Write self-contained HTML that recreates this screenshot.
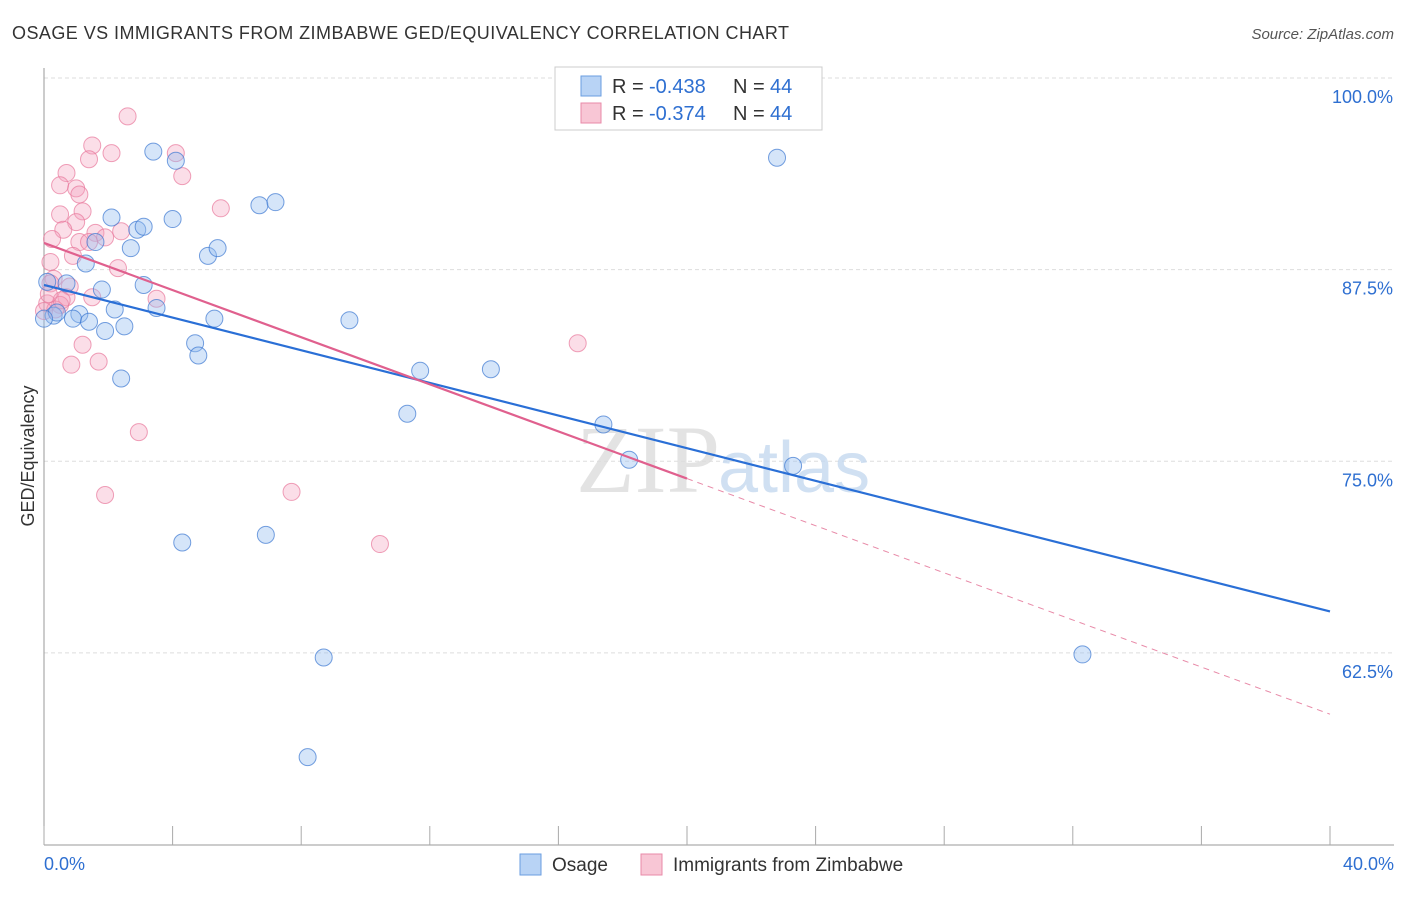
<!DOCTYPE html>
<html><head><meta charset="utf-8"><style>
body{margin:0;background:#fff;font-family:"Liberation Sans",sans-serif}
</style></head><body>
<svg width="1406" height="892" xmlns="http://www.w3.org/2000/svg">
<text x="12" y="39" font-size="18" fill="#333" textLength="777">OSAGE VS IMMIGRANTS FROM ZIMBABWE GED/EQUIVALENCY CORRELATION CHART</text>
<text x="1394" y="39" font-size="15" fill="#555" font-style="italic" text-anchor="end">Source: ZipAtlas.com</text>
<g id="grid"></g>
<text x="720" y="492" font-size="96" fill="#ddd" font-family="Liberation Serif" text-anchor="end" opacity="0.8">ZIP</text>
<text x="718" y="492" font-size="72" fill="#c5d9f0" opacity="0.8">atlas</text>
<g id="pts"></g>
<g id="lines"></g>
<text transform="translate(34,456) rotate(-90)" font-size="18" fill="#333" text-anchor="middle">GED/Equivalency</text>
<g>
<rect x="555" y="67" width="267" height="63" fill="#fff" stroke="#ccc"/>
<rect x="581" y="76" width="20" height="20" fill="#b8d3f5" stroke="#6a9ee0"/>
<text x="612" y="93" font-size="20" fill="#333">R =</text>
<text x="649" y="93" font-size="20" fill="#2e6fd1">-0.438</text>
<text x="733" y="93" font-size="20" fill="#333">N =</text>
<text x="770" y="93" font-size="20" fill="#2e6fd1">44</text>
<rect x="581" y="103" width="20" height="20" fill="#f8c6d5" stroke="#e88aa8"/>
<text x="612" y="120" font-size="20" fill="#333">R =</text>
<text x="649" y="120" font-size="20" fill="#2e6fd1">-0.374</text>
<text x="733" y="120" font-size="20" fill="#333">N =</text>
<text x="770" y="120" font-size="20" fill="#2e6fd1">44</text>
</g>
<g>
<rect x="520" y="854" width="21" height="21" fill="#b8d3f5" stroke="#6a9ee0"/>
<text x="552" y="871" font-size="19" fill="#333">Osage</text>
<rect x="641" y="854" width="21" height="21" fill="#f8c6d5" stroke="#e88aa8"/>
<text x="673" y="871" font-size="19" fill="#333">Immigrants from Zimbabwe</text>
</g>
</svg>
<script>
const xTicks=[0,4,8,12,16,20,24,28,32,36,40];
const yTicks=[100,87.5,75,62.5];
const osageX=[3.4,4.1,22.8,2.1,2.9,3.1,4.0,6.7,7.2,1.6,2.7,5.1,5.4,1.3,0.1,0.7,1.8,3.1,2.2,3.5,1.1,0.3,0.9,1.4,2.5,1.9,5.3,9.5,4.7,4.8,2.4,11.7,13.9,11.3,17.4,18.2,23.3,4.3,6.9,8.7,32.3,8.2,0.4,0.0];
const osageY=[95.2,94.6,94.8,90.9,90.1,90.3,90.8,91.7,91.9,89.3,88.9,88.4,88.9,87.9,86.7,86.6,86.2,86.5,84.9,85.0,84.6,84.5,84.3,84.1,83.8,83.5,84.3,84.2,82.7,81.9,80.4,80.9,81.0,78.1,77.4,75.1,74.7,69.7,70.2,62.2,62.4,55.7,84.7,84.3];
const zimX=[2.6,1.5,2.1,4.1,1.4,0.7,4.3,0.5,1.0,1.1,5.5,1.2,0.5,1.0,0.6,1.6,2.4,1.9,0.25,1.1,1.4,0.2,0.9,2.3,0.3,0.8,1.5,3.5,0.7,0.1,0.5,0.35,0.0,1.2,0.85,1.7,16.6,2.95,1.9,7.7,10.45,0.55,0.2,0.15];
const zimY=[97.5,95.6,95.1,95.1,94.7,93.8,93.6,93.0,92.8,92.4,91.5,91.3,91.1,90.6,90.1,89.9,90.0,89.6,89.5,89.3,89.3,88.0,88.4,87.6,86.9,86.4,85.7,85.6,85.7,85.3,85.2,84.9,84.8,82.6,81.3,81.5,82.7,76.9,72.8,73.0,69.6,85.5,86.6,85.9];
const blueLine=[86.5,65.2];
const pinkLine=[89.24,58.5];
const X=v=>44+v*32.15, Y=v=>78+(100-v)*15.33;
const NS="http://www.w3.org/2000/svg";
function mk(t,a,p){const e=document.createElementNS(NS,t);for(const k in a)e.setAttribute(k,a[k]);p.appendChild(e);return e;}
const grid=document.getElementById('grid');
yTicks.forEach(t=>{
 const l=mk('line',{x1:44,x2:1394,y1:Y(t),y2:Y(t),stroke:'#ddd','stroke-dasharray':'4,3'},grid);
 
 
 const tx=mk('text',{x:1393,y:Y(t)+25,'font-size':18,fill:'#2e6fd1','text-anchor':'end'},grid);
 tx.textContent=t.toFixed(1)+'%';
 
 
});
const ax=mk('line',{x1:44,x2:44,y1:68,y2:845,stroke:'#999'},grid);


const bx=mk('line',{x1:44,x2:1394,y1:845,y2:845,stroke:'#999'},grid);


xTicks.forEach(t=>{
 const l=mk('line',{x1:X(t),x2:X(t),y1:826,y2:845,stroke:'#aaa'},grid);
 
 
});
[[0,'0.0%','start',44],[40,'40.0%','end',1394]].forEach(a=>{
 const tx=mk('text',{x:a[3],y:870,'font-size':18,fill:'#2e6fd1','text-anchor':a[2]},grid);
 tx.textContent=a[1];
 
 
});
const pts=document.getElementById('pts');
zimX.forEach((v,i)=>{
 const c=mk('circle',{cx:X(v),cy:Y(zimY[i]),r:8.5,fill:'rgba(244,160,188,0.35)',stroke:'rgba(232,120,155,0.7)','stroke-width':1},pts);
 
 
});
osageX.forEach((v,i)=>{
 const c=mk('circle',{cx:X(v),cy:Y(osageY[i]),r:8.5,fill:'rgba(150,190,240,0.4)',stroke:'rgba(60,120,210,0.7)','stroke-width':1},pts);
 
 
});
const ln=document.getElementById('lines');
const pAt=x=>pinkLine[0]+(pinkLine[1]-pinkLine[0])*x/40;
let l1=mk('line',{x1:X(0),y1:Y(blueLine[0]),x2:X(40),y2:Y(blueLine[1]),stroke:'#2a6fd6','stroke-width':2.2},ln);


let l2=mk('line',{x1:X(0),y1:Y(pinkLine[0]),x2:X(20),y2:Y(pAt(20)),stroke:'#e0608e','stroke-width':2.2},ln);


let l3=mk('line',{x1:X(20),y1:Y(pAt(20)),x2:X(40),y2:Y(pinkLine[1]),stroke:'#e88aa8','stroke-width':1,'stroke-dasharray':'6,5'},ln);


</script>
</body></html>
